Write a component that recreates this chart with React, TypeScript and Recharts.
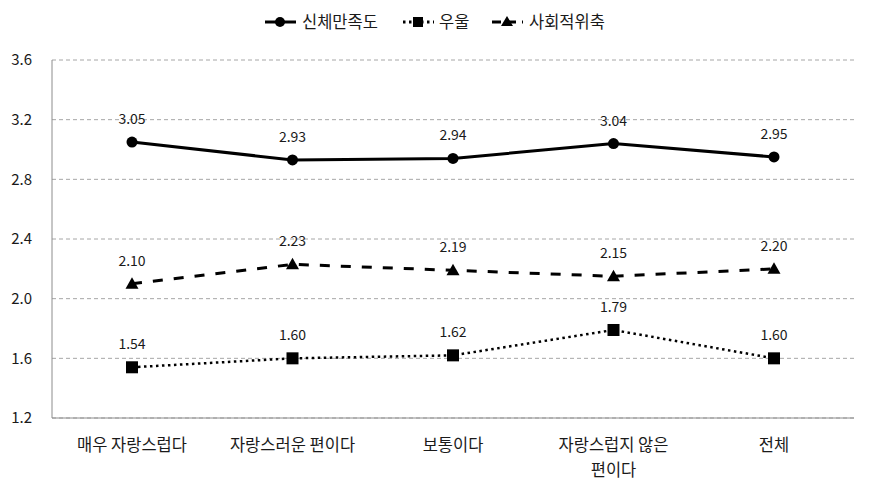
import React from 'react';
import { LineChart, Line, XAxis, YAxis, CartesianGrid, LabelList } from 'recharts';

const categories = ['매우 자랑스럽다', '자랑스러운 편이다', '보통이다', '자랑스럽지 않은 편이다', '전체'];
const bodySatisfaction = [3.05, 2.93, 2.94, 3.04, 2.95];
const depression = [1.54, 1.6, 1.62, 1.79, 1.6];
const socialWithdrawal = [2.1, 2.23, 2.19, 2.15, 2.2];
const yTicks = [1.2, 1.6, 2.0, 2.4, 2.8, 3.2, 3.6];

const seriesNames = ['신체만족도', '우울', '사회적위축'];

const FONT = '"Malgun Gothic", "Noto Sans CJK KR", sans-serif';
const TEXT = '#1a1a1a';

const data = categories.map((name, i) => ({
    name,
    body: bodySatisfaction[i],
    dep: depression[i],
    social: socialWithdrawal[i],
}));

const CircleDot = (props: any) => {
    const { cx, cy } = props;
    if (cx == null || cy == null) return null;
    return <circle cx={cx} cy={cy} r={5.5} fill="#000" />;
};

const SquareDot = (props: any) => {
    const { cx, cy } = props;
    if (cx == null || cy == null) return null;
    return <rect x={cx - 6} y={cy - 6} width={12} height={12} fill="#000" />;
};

const TriangleDot = (props: any) => {
    const { cx, cy } = props;
    if (cx == null || cy == null) return null;
    return <polygon points={`${cx},${cy - 6.5} ${cx + 6.5},${cy + 5} ${cx - 6.5},${cy + 5}`} fill="#000" />;
};

const CategoryTick = (props: any) => {
    const { x, y, payload } = props;
    const text: string = payload.value;
    let lines = [text];
    if (text.length > 10) {
        const cut = text.lastIndexOf(' ');
        lines = [text.slice(0, cut), text.slice(cut + 1)];
    }
    return (
        <g>
            {lines.map((ln, i) => (
                <text key={i} x={x} y={y + 31 + i * 25} textAnchor="middle" fontSize={16.5} fill={TEXT} fontFamily={FONT}>
                    {ln}
                </text>
            ))}
        </g>
    );
};

const LegendBox = () => {
    const items = [
        { name: seriesNames[0], dash: undefined, x: 265, textX: 302, marker: 'circle' },
        { name: seriesNames[1], dash: '2.5 3.5', x: 403, textX: 439, marker: 'square' },
        { name: seriesNames[2], dash: '9 6', x: 492, textX: 529, marker: 'triangle' },
    ];
    return (
        <svg width={871} height={40} style={{ position: 'absolute', left: 0, top: 0 }}>
            {items.map((it) => {
                const cx = it.x + 15;
                const cy = 22;
                return (
                    <g key={it.name}>
                        <line x1={it.x} x2={it.x + 31} y1={cy} y2={cy} stroke="#000" strokeWidth={3} strokeDasharray={it.dash} />
                        {it.marker === 'circle' && <circle cx={cx} cy={cy} r={5} fill="#000" />}
                        {it.marker === 'square' && <rect x={cx - 5} y={cy - 5} width={10} height={10} fill="#000" />}
                        {it.marker === 'triangle' && <polygon points={`${cx},${cy - 6} ${cx + 6},${cy + 4} ${cx - 6},${cy + 4}`} fill="#000" />}
                        <text x={it.textX} y={cy + 6} fontSize={16.5} fill={TEXT} fontFamily={FONT}>
                            {it.name}
                        </text>
                    </g>
                );
            })}
        </svg>
    );
};

const labelProps = {
    position: 'top' as const,
    offset: 18,
    fontSize: 14,
    fill: TEXT,
    fontFamily: FONT,
    formatter: (v: any) => Number(v).toFixed(2),
};

const App: React.FC = () => {
    return (
        <div style={{ position: 'absolute', left: 0, top: 0, width: 871, height: 494, background: '#fff' }}>
            <LineChart width={871} height={494} data={data} margin={{ top: 60, right: 17, bottom: 0, left: 0 }}>
                <CartesianGrid vertical={false} stroke="#a6a6a6" strokeDasharray="4 3" />
                <XAxis
                    dataKey="name"
                    tick={<CategoryTick />}
                    tickLine={false}
                    tickSize={0}
                    axisLine={{ stroke: '#8c8c8c' }}
                    height={76}
                    interval={0}
                    padding={{ left: 80, right: 80 }}
                />
                <YAxis
                    domain={[1.2, 3.6]}
                    ticks={yTicks}
                    tickFormatter={(v: number) => v.toFixed(1)}
                    tickLine={false}
                    tickSize={0}
                    tickMargin={20}
                    axisLine={{ stroke: '#8c8c8c' }}
                    width={52}
                    tick={{ fontSize: 15, fill: TEXT, fontFamily: FONT }}
                />
                <Line type="linear" dataKey="body" name={seriesNames[0]} stroke="#000" strokeWidth={3} dot={<CircleDot />} activeDot={false} isAnimationActive={false}>
                    <LabelList dataKey="body" {...labelProps} />
                </Line>
                <Line type="linear" dataKey="dep" name={seriesNames[1]} stroke="#000" strokeWidth={2.5} strokeDasharray="2.5 3.5" dot={<SquareDot />} activeDot={false} isAnimationActive={false}>
                    <LabelList dataKey="dep" {...labelProps} />
                </Line>
                <Line type="linear" dataKey="social" name={seriesNames[2]} stroke="#000" strokeWidth={3} strokeDasharray="10 11" dot={<TriangleDot />} activeDot={false} isAnimationActive={false}>
                    <LabelList dataKey="social" {...labelProps} />
                </Line>
            </LineChart>
            <LegendBox />
        </div>
    );
};

export default App;
